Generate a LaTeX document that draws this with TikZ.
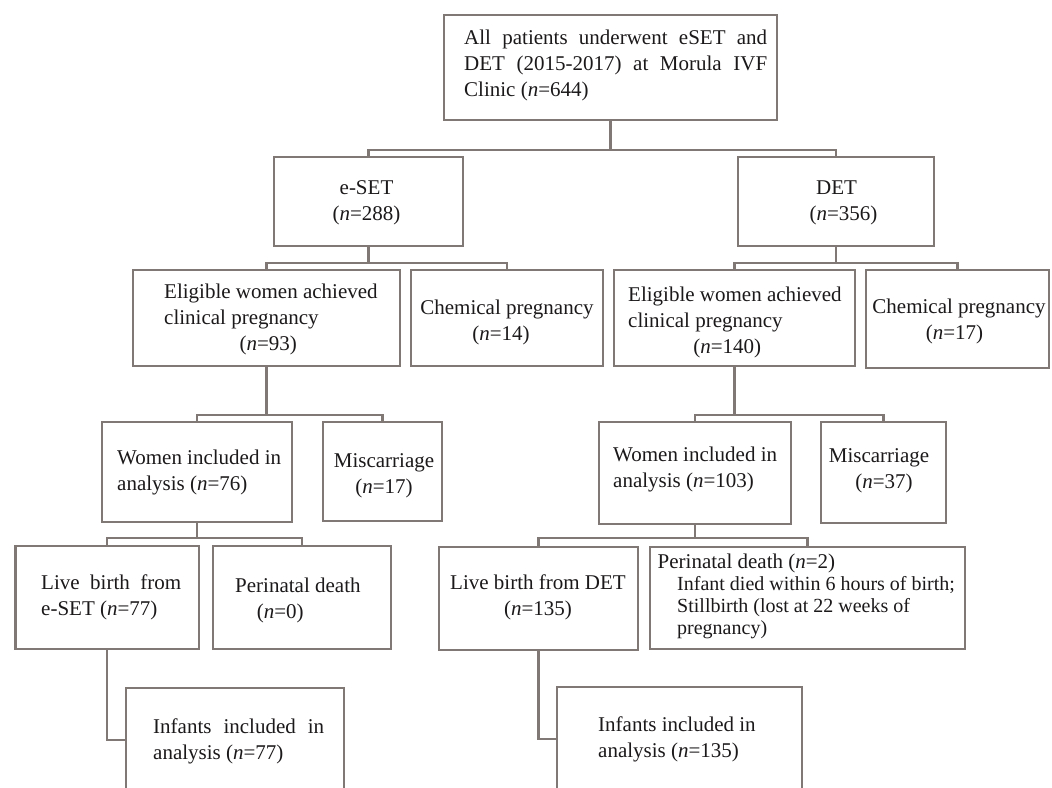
\documentclass[tikz,border=0pt]{standalone}
\usepackage{fontspec}
\setmainfont{Liberation Serif}
\definecolor{linec}{RGB}{128,120,116}
\definecolor{textc}{RGB}{28,25,26}
\newcommand\myfs{\fontsize{21}{26}\selectfont}
\begin{document}
\begin{tikzpicture}[x=1pt,y=-1pt,
  box/.style={draw=linec, line width=2.3pt, inner sep=0pt},
  txt/.style={inner sep=0pt, font=\myfs, text=textc},
  conn/.style={draw=linec, line width=2.3pt}]
\useasboundingbox (0,0) rectangle (1052,787);
\fill[white] (0,0) rectangle (1052,787);
\clip (0,0) rectangle (1052,787);

% boxes
\node[box, minimum width=333pt, minimum height=105pt] (top) at (610.5,67.5) {};
\node[box, minimum width=189pt, minimum height=89pt] (eset) at (368.5,201.5) {};
\node[box, minimum width=196pt, minimum height=89pt] (det) at (836,201.5) {};
\node[box, minimum width=267pt, minimum height=96pt] (elig93) at (266.5,318) {};
\node[box, minimum width=192pt, minimum height=96pt] (chem14) at (507,318) {};
\node[box, minimum width=241pt, minimum height=96pt] (elig140) at (734.5,318) {};
\node[box, minimum width=183pt, minimum height=98pt] (chem17) at (957.5,319) {};
\node[box, minimum width=190pt, minimum height=100pt] (women76) at (197,472) {};
\node[box, minimum width=119pt, minimum height=99pt] (misc17) at (382.5,471.5) {};
\node[box, minimum width=192pt, minimum height=102pt] (women103) at (695,473) {};
\node[box, minimum width=125pt, minimum height=101pt] (misc37) at (883.5,472.5) {};
\node[box, minimum width=183.5pt, minimum height=103pt] (live77) at (107.25,597.5) {};
\node[box, minimum width=178pt, minimum height=103pt] (peri0) at (302,597.5) {};
\node[box, minimum width=199pt, minimum height=103pt] (live135) at (538.5,598.5) {};
\node[box, minimum width=315pt, minimum height=102pt] (peri2) at (807.5,598) {};
\node[box, minimum width=218pt, minimum height=104pt] (inf77) at (235,740) {};
\node[box, minimum width=245pt, minimum height=104pt] (inf135) at (679.5,739) {};

% bracket levels
\coordinate (L1) at (0,150);
\coordinate (L2) at (0,263);
\coordinate (L3) at (0,415);
\coordinate (L4) at (0,538);

% connectors
\draw[conn] (top.south) -- (top.south |- L1);
\draw[conn] (eset.north) |- (top.south |- L1) -| (det.north);
\draw[conn] (eset.south) -- (eset.south |- L2);
\draw[conn] (elig93.north) |- (eset.south |- L2) -| (chem14.north);
\draw[conn] (det.south) -- (det.south |- L2);
\draw[conn] (elig140.north) |- (det.south |- L2) -| (chem17.north);
\draw[conn] (elig93.south) -- (elig93.south |- L3);
\draw[conn] (women76.north) |- (elig93.south |- L3) -| (misc17.north);
\draw[conn] (elig140.south) -- (elig140.south |- L3);
\draw[conn] (women103.north) |- (elig140.south |- L3) -| (misc37.north);
\draw[conn] (women76.south) -- (women76.south |- L4);
\draw[conn] (live77.north) |- (women76.south |- L4) -| (peri0.north);
\draw[conn] (women103.south) -- (women103.south |- L4);
\draw[conn] (live135.north) |- (women103.south |- L4) -| (peri2.north);
\draw[conn] (live77.south) |- (inf77.west);
\draw[conn] (live135.south) |- (inf135.west);

% texts
\node[txt, anchor=west, align=left] (ttop) at (464,65.5)
  {\makebox[303pt][s]{All patients underwent eSET and}\\
   \makebox[303pt][s]{DET (2015-2017) at Morula IVF}\\
   Clinic (\textit{n}=644)};
\node[txt, align=center] (teset) at (366.5,203) {e-SET\\(\textit{n}=288)};
\node[txt, align=center] (tdet) at (836.5,203) {DET\\\hspace*{14pt}(\textit{n}=356)};
\node[txt, anchor=west, align=left] (telig93) at (164,319.5)
  {Eligible women achieved\\clinical pregnancy\\\makebox[208pt]{(\textit{n}=93)}};
\node[txt, align=center] (tchem14) at (507,322.5)
  {Chemical pregnancy\\\hspace*{-12pt}(\textit{n}=14)};
\node[txt, anchor=west, align=left] (telig140) at (628,322.5)
  {Eligible women achieved\\clinical pregnancy\\\makebox[198pt]{(\textit{n}=140)}};
\node[txt, align=center] (tchem17) at (959,321)
  {Chemical pregnancy\\\hspace*{-9pt}(\textit{n}=17)};
\node[txt, anchor=west, align=left] (twomen76) at (117,472.5)
  {Women included in\\analysis (\textit{n}=76)};
\node[txt, align=center] (tmisc17) at (384,476) {Miscarriage\\(\textit{n}=17)};
\node[txt, anchor=west, align=left] (twomen103) at (613,469)
  {Women included in\\analysis (\textit{n}=103)};
\node[txt, align=center] (tmisc37) at (879,471) {Miscarriage\\\hspace*{10pt}(\textit{n}=37)};
\node[txt, anchor=west, align=left] (tlive77) at (41,597.5)
  {\makebox[140pt][s]{Live birth from}\\e-SET (\textit{n}=77)};
\node[txt, anchor=west, align=left] (tperi0) at (235,600)
  {Perinatal death\\\makebox[90pt]{(\textit{n}=0)}};
\node[txt, align=center] (tlive135) at (538,597.5) {Live birth from DET\\(\textit{n}=135)};
\node[txt, anchor=west, align=left, font=\fontsize{20}{22}\selectfont] (tperi2) at (657.5,596.5)
  {{\fontsize{21}{22}\selectfont Perinatal death (\textit{n}=2)}\\
   \hspace*{19.5pt}Infant died within 6 hours of birth;\\
   \hspace*{19.5pt}Stillbirth (lost at 22 weeks of\\
   \hspace*{19.5pt}pregnancy)};
\node[txt, anchor=west, align=left] (tinf77) at (153,741.5)
  {\makebox[171pt][s]{Infants included in}\\analysis (\textit{n}=77)};
\node[txt, anchor=west, align=left] (tinf135) at (598,739.5)
  {Infants included in\\analysis (\textit{n}=135)};
\end{tikzpicture}
\end{document}
